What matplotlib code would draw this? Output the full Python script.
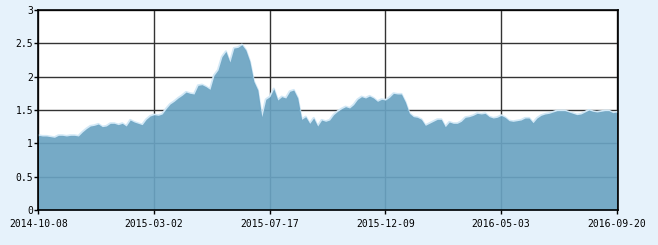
import matplotlib
matplotlib.use("Agg")
import matplotlib.pyplot as plt
import numpy as np

# net value series, sampled evenly over the trading days shown
values = [
    1.12, 1.11, 1.11, 1.10, 1.09, 1.12, 1.12, 1.11, 1.12, 1.12,
    1.11, 1.17, 1.22, 1.26, 1.27, 1.29, 1.25, 1.26, 1.30, 1.30,
    1.28, 1.30, 1.26, 1.35, 1.32, 1.30, 1.28, 1.36, 1.41, 1.43,
    1.42, 1.44, 1.52, 1.59, 1.63, 1.68, 1.72, 1.77, 1.75, 1.74,
    1.87, 1.88, 1.85, 1.81, 2.02, 2.10, 2.30, 2.38, 2.22, 2.43,
    2.44, 2.48, 2.40, 2.23, 1.93, 1.80, 1.40, 1.66, 1.70, 1.82,
    1.65, 1.70, 1.68, 1.78, 1.80, 1.68, 1.36, 1.40, 1.30, 1.38,
    1.26, 1.35, 1.33, 1.35, 1.43, 1.48, 1.52, 1.55, 1.53, 1.58,
    1.66, 1.70, 1.68, 1.71, 1.68, 1.63, 1.66, 1.65, 1.69, 1.75,
    1.74, 1.74, 1.62, 1.45, 1.40, 1.39, 1.36, 1.27, 1.30, 1.33,
    1.36, 1.36, 1.25, 1.32, 1.30, 1.30, 1.33, 1.39, 1.40, 1.42,
    1.45, 1.44, 1.45, 1.40, 1.38, 1.39, 1.42, 1.39, 1.34, 1.33,
    1.34, 1.35, 1.38, 1.38, 1.31, 1.38, 1.42, 1.44, 1.45, 1.47,
    1.49, 1.49, 1.49, 1.47, 1.45, 1.43, 1.44, 1.47, 1.50, 1.48,
    1.47, 1.48, 1.49, 1.49, 1.46, 1.47,
]
date_labels = ["2014-10-08", "2015-03-02", "2015-07-17",
               "2015-12-09", "2016-05-03", "2016-09-20"]
y_ticks = [0, 0.5, 1, 1.5, 2, 2.5, 3]
y_labels = ["0", "0.5", "1", "1.5", "2", "2.5", "3"]

plt.rcParams['font.family'] = ['DejaVu Sans Mono']

bg = '#e6f2fb'
fig = plt.figure(figsize=(6.58, 2.45), dpi=100, facecolor=bg)
ax = fig.add_axes([0.0585, 0.143, 0.881, 0.816])
ax.set_facecolor('white')

x = np.arange(len(values))
ax.plot(x, values, color='#d2e8f6', lw=1.6, zorder=2)
ax.fill_between(x, 0, values, color='#6aa3c2', alpha=0.92, lw=0, zorder=3)

ticks = np.linspace(0, len(values) - 1, len(date_labels))
ax.set_xticks(ticks)
ax.set_xticklabels(date_labels)
ax.set_xlim(0, len(values) - 1 + 0.35)
ax.set_ylim(0, 3)
ax.set_yticks(y_ticks)
ax.set_yticklabels(y_labels)

ax.grid(True, color='#333333', lw=1, zorder=0)
ax.set_axisbelow(True)
ax.tick_params(length=3, width=1, labelsize=7, colors='black')
ax.tick_params(axis='x', pad=3.5)
ax.tick_params(axis='y', pad=0.8)
for s in ax.spines.values():
    s.set_color('black')
    s.set_linewidth(1.2)
    s.set_zorder(5)

fig.savefig('out.png', dpi=100, facecolor=bg)
